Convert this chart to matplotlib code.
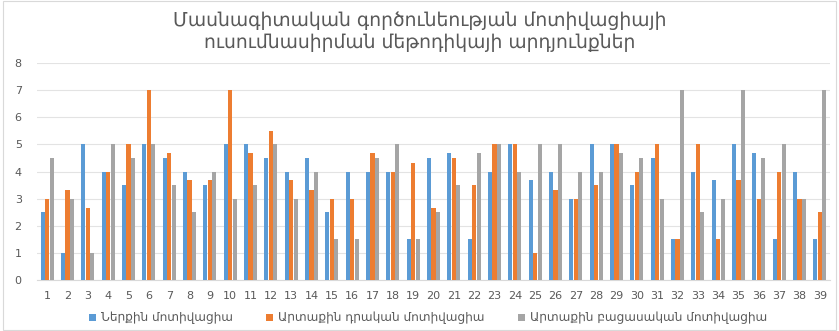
import numpy as np
import matplotlib.pyplot as plt
from matplotlib.patches import Rectangle

# Survey results per respondent (1..39)
respondents = [str(i) for i in range(1, 40)]
inner = [2.5, 1, 5, 4, 3.5, 5, 4.5, 4, 3.5, 5,
         5, 4.5, 4, 4.5, 2.5, 4, 4, 4, 1.5, 4.5,
         4.67, 1.5, 4, 5, 3.67, 4, 3, 5, 5, 3.5,
         4.5, 1.5, 4, 3.67, 5, 4.67, 1.5, 4, 1.5]
outer_pos = [3, 3.33, 2.67, 4, 5, 7, 4.67, 3.67, 3.67, 7,
             4.67, 5.5, 3.67, 3.33, 3, 3, 4.67, 4, 4.33, 2.67,
             4.5, 3.5, 5, 5, 1, 3.33, 3, 3.5, 5, 4,
             5, 1.5, 5, 1.5, 3.67, 3, 4, 3, 2.5]
outer_neg = [4.5, 3, 1, 5, 4.5, 5, 3.5, 2.5, 4, 3,
             3.5, 5, 3, 4, 1.5, 1.5, 4.5, 5, 1.5, 2.5,
             3.5, 4.67, 5, 4, 5, 5, 4, 4, 4.67, 4.5,
             3, 7, 2.5, 3, 7, 4.5, 5, 3, 7]

series_names = ["Ներքին մոտիվացիա", "Արտաքին դրական մոտիվացիա",
                "Արտաքին բացասական մոտիվացիա"]
colors = ["#5B9BD5", "#ED7D31", "#A5A5A5"]

plt.rcParams["font.family"] = ["DejaVu Sans"]

fig = plt.figure(figsize=(8.39, 3.31), dpi=100)
ax = fig.add_axes([37 / 839, 1 - 280 / 331, (830 - 37) / 839, (280 - 63) / 331])

x = np.arange(len(respondents))
w = 0.2
for i, (vals, name, c) in enumerate(zip([inner, outer_pos, outer_neg], series_names, colors)):
    ax.bar(x + (i - 1) * 0.215, vals, width=w, color=c, label=name, zorder=3)

ax.set_ylim(0, 8)
ax.set_xlim(-0.5, len(respondents) - 0.5)
ax.set_yticks(range(0, 9))
ax.set_xticks(x)
ax.set_xticklabels(respondents)
ax.tick_params(axis="both", length=0, labelsize=8, colors="#595959")
ax.tick_params(axis="y", pad=11)
ax.tick_params(axis="x", pad=8)
ax.grid(axis="y", color="#E3E3E3", linewidth=0.8, zorder=0)
for side in ["top", "right", "left"]:
    ax.spines[side].set_visible(False)
ax.spines["bottom"].set_color("#D9D9D9")

fig.text(0.5, 1 - 20 / 331, "Մասնագիտական գործունեության մոտիվացիայի",
         ha="center", va="center", fontsize=13.5, color="#595959")
fig.text(0.5, 1 - 43 / 331, "ուսումնասիրման մեթոդիկայի արդյունքներ",
         ha="center", va="center", fontsize=13.5, color="#595959")

fig.legend(loc="center", bbox_to_anchor=(428 / 839, 1 - 318 / 331), ncol=3,
           frameon=False, fontsize=8.7, handlelength=0.55, handleheight=0.55,
           columnspacing=2.8, handletextpad=0.4, labelcolor="#595959")

# chart frame
fig.patches.append(Rectangle((0.003, 0.003), 0.994, 0.994, transform=fig.transFigure,
                             fill=False, edgecolor="#D9D9D9", linewidth=0.8))

fig.savefig("out.png", dpi=100)
